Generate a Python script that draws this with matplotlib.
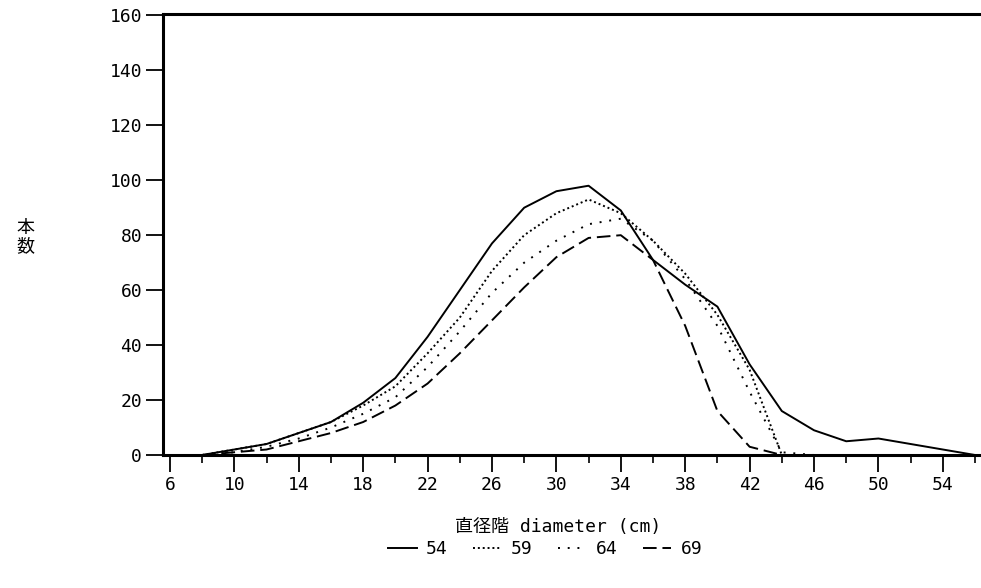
import matplotlib
matplotlib.use("Agg")
import matplotlib.pyplot as plt
import numpy as np

# diameter classes (cm) and tree counts per survey year
diameter = [8, 10, 12, 14, 16, 18, 20, 22, 24, 26, 28, 30, 32, 34, 36, 38, 40, 42, 44, 46, 48, 50, 52, 54, 56]
n54 = [0, 2, 4, 8, 12, 19, 28, 43, 60, 77, 90, 96, 98, 89, 71, 62, 54, 33, 16, 9, 5, 6, 4, 2, 0]
n59 = [0, 2, 4, 8, 12, 18, 25, 37, 50, 67, 80, 88, 93, 88, 78, 66, 51, 31, 0, 0, 0, 0, 0, 0, 0]
n64 = [0, 1, 3, 6, 10, 15, 21, 32, 45, 59, 70, 78, 84, 86, 78, 64, 47, 23, 1, 0, 0, 0, 0, 0, 0]
n69 = [0, 1, 2, 5, 8, 12, 18, 26, 37, 49, 61, 72, 79, 80, 71, 47, 16, 3, 0, 0, 0, 0, 0, 0, 0]
years = ["54", "59", "64", "69"]

xticks = list(range(6, 56, 4))
yticks = list(range(0, 161, 20))

mono = ["DejaVu Sans Mono", "Noto Sans CJK JP"]

fig = plt.figure(figsize=(9.81, 5.88), dpi=100)
ax = fig.add_axes([163 / 981, 133 / 588, 837 / 981, 441 / 588])

styles = ["-", (0, (1, 1.5)), (0, (1, 4)), (0, (7, 3))]
for vals, ls, lab in zip([n54, n59, n64, n69], styles, years):
    ax.plot(diameter, vals, color="black", linestyle=ls, linewidth=1.4, label=lab)

ax.set_xlim(5.57, 57.55)
ax.set_ylim(0, 160.5)
ax.set_xticks(xticks)
ax.set_xticks(list(range(8, 57, 4)), minor=True)
ax.set_yticks(yticks)

for s in ["left", "bottom", "top"]:
    ax.spines[s].set_linewidth(2.2)
ax.spines["right"].set_visible(False)

ax.tick_params(axis="both", which="major", direction="out", length=12, width=1.3,
               labelsize=13, pad=3)
ax.tick_params(axis="x", which="minor", direction="out", length=6, width=1.2)
for lbl in ax.get_xticklabels() + ax.get_yticklabels():
    lbl.set_family(mono)

fig.text(25 / 981, 1 - 237 / 588, "本\n数", family=["Noto Sans CJK JP", "DejaVu Sans"],
         fontsize=13, ha="center", va="center", linespacing=0.95)
fig.text(558 / 981, 1 - 527 / 588, "直径階 diameter (cm)", family=mono,
         fontsize=13, ha="center", va="center")

leg = ax.legend(loc="center", bbox_to_anchor=(545 / 981, 1 - 549 / 588),
                bbox_transform=fig.transFigure, ncol=4, frameon=False,
                handlelength=1.6, handletextpad=0.5, columnspacing=1.4,
                prop={"family": mono, "size": 13})

fig.savefig("out.png", dpi=100)
